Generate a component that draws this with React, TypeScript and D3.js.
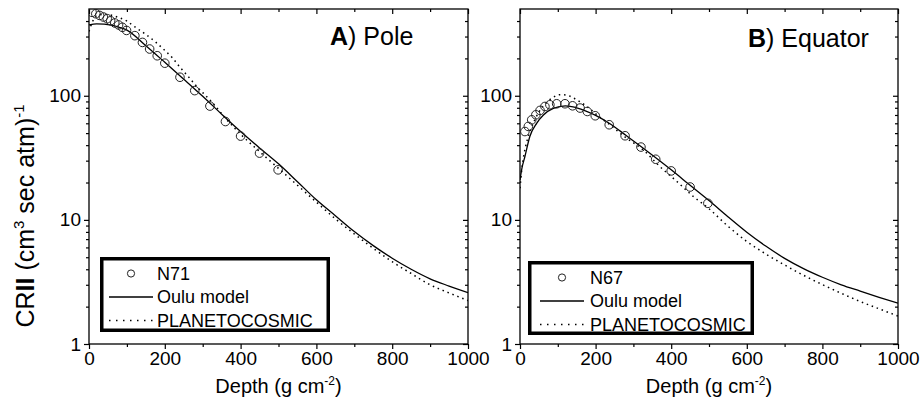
import React, { useEffect, useRef } from 'react'
import * as d3 from 'd3'

// A) Pole
const poleN71Depth = [8, 18, 28, 38, 48, 57, 68, 78, 88, 99, 121, 141, 160, 180, 200, 240, 279, 319, 360, 400, 450, 499]
const poleN71 = [470, 458, 444, 431, 418, 402, 386, 372, 356, 336, 305, 269, 238, 210, 183, 141, 110, 82.6, 62, 47.3, 34.5, 25.3]
const poleOuluDepth = [0, 20, 40, 60, 80, 100, 150, 200, 250, 300, 350, 400, 450, 500, 550, 600, 650, 700, 750, 800, 850, 900, 950, 1000]
const poleOulu = [372, 380, 378, 370, 356, 338, 253, 186, 136, 99, 71, 51.5, 38, 28.3, 20.3, 14.5, 10.8, 8.05, 6.2, 4.91, 4.0, 3.35, 2.93, 2.59]
const polePlanetoDepth = [0, 10, 20, 40, 60, 80, 100, 120, 150, 175, 200, 220, 240, 260, 280, 300, 330, 360, 400, 450, 500, 550, 600, 650, 700, 750, 800, 850, 900, 950, 1000]
const polePlaneto = [330, 400, 440, 452, 445, 425, 400, 360, 312, 272, 232, 202, 170, 145, 123, 106, 85, 66, 49, 35.5, 26, 19, 13.9, 10.2, 7.7, 5.9, 4.6, 3.7, 3.0, 2.58, 2.24]

// B) Equator
const eqN67Depth = [13, 22, 31, 42, 53, 66, 79, 97, 119, 139, 159, 178, 199, 236, 278, 320, 359, 400, 450, 497]
const eqN67 = [51.5, 56.6, 64, 70.3, 76.2, 82, 84.6, 86.2, 86.2, 83, 79.6, 74.7, 69, 58.4, 47.6, 38.6, 30.8, 24.8, 18.4, 13.6]
const eqOuluDepth = [0, 5, 13, 26, 44, 62, 88, 120, 150, 200, 240, 280, 320, 360, 400, 450, 500, 550, 600, 650, 700, 750, 800, 850, 900, 950, 1000]
const eqOulu = [21, 26, 32.4, 47, 60, 70, 79, 83, 80, 69.5, 59, 48, 39, 31.5, 25.3, 19, 14.3, 10.6, 7.95, 6.15, 4.9, 4.05, 3.45, 3.0, 2.67, 2.38, 2.13]
const eqPlanetoDepth = [0, 5, 10, 20, 35, 50, 70, 90, 106, 125, 141, 160, 177, 203, 238, 280, 326, 370, 415, 459, 500, 550, 600, 650, 700, 750, 800, 850, 900, 950, 1000]
const eqPlaneto = [18, 26, 33, 45, 60, 74, 88, 98, 102, 101, 96, 89, 82, 70.3, 58.3, 46, 36.6, 26.9, 20.4, 15.4, 12.3, 8.9, 6.7, 5.32, 4.33, 3.58, 3.01, 2.56, 2.2, 1.92, 1.68]

const depthTicks = [0, 200, 400, 600, 800, 1000]
const depthMinorTicks = [100, 300, 500, 700, 900]
const rateTicks = [1, 10, 100]
const rateMinorTicks = [2, 3, 4, 5, 6, 7, 8, 9, 20, 30, 40, 50, 60, 70, 80, 90, 200, 300, 400]
const seriesLabels = ['Oulu model', 'PLANETOCOSMIC']

const FONT = "'Liberation Sans', Arial, Helvetica, sans-serif"
const TOP = 9
const BOTTOM = 344

const panels = [
  {
    left: 89, right: 468,
    letter: 'A', name: ') Pole', titleX: 330, titleY: 45,
    station: 'N71', obsX: poleN71Depth, obsY: poleN71,
    oulu: [poleOuluDepth, poleOulu], planeto: [polePlanetoDepth, polePlaneto],
    legend: { x: 100, y: 257, w: 230, h: 75, mark: 131, l0: 109, l1: 153, text: 157 }
  },
  {
    left: 520, right: 898,
    letter: 'B', name: ') Equator', titleX: 748, titleY: 47,
    station: 'N67', obsX: eqN67Depth, obsY: eqN67,
    oulu: [eqOuluDepth, eqOulu], planeto: [eqPlanetoDepth, eqPlaneto],
    legend: { x: 528, y: 261, w: 226, h: 74, mark: 562, l0: 540, l1: 584, text: 590 }
  }
]

export default function App() {
  const svgRef = useRef<SVGSVGElement>(null)

  useEffect(() => {
    const svg = d3.select(svgRef.current)
    svg.selectAll('*').remove()

    const y = d3.scaleLog().domain([1, 500]).range([BOTTOM, TOP])

    panels.forEach((p, pi) => {
      const x = d3.scaleLinear().domain([0, 1000]).range([p.left, p.right])
      const g = svg.append('g')

      const clipId = 'clip' + pi
      g.append('clipPath').attr('id', clipId)
        .append('rect')
        .attr('x', p.left).attr('y', TOP)
        .attr('width', p.right - p.left).attr('height', BOTTOM - TOP)

      const styleAxis = (sel: any) => {
        sel.select('.domain').remove()
        sel.selectAll('line').attr('stroke', '#000').attr('stroke-width', 1.2)
        sel.selectAll('text').attr('font-family', FONT).attr('font-size', 19).attr('fill', '#000')
        sel.attr('font-family', null).attr('font-size', null)
      }

      // bottom
      g.append('g').attr('transform', `translate(0,${BOTTOM})`)
        .call(d3.axisBottom(x).tickValues(depthTicks).tickSize(5).tickSizeOuter(0).tickPadding(3).tickFormat(d3.format('d')))
        .call(styleAxis)
      g.append('g').attr('transform', `translate(0,${BOTTOM})`)
        .call(d3.axisBottom(x).tickValues(depthMinorTicks).tickSize(3).tickSizeOuter(0).tickFormat(() => ''))
        .call(styleAxis)
      // top (inward)
      g.append('g').attr('transform', `translate(0,${TOP})`)
        .call(d3.axisTop(x).tickValues(depthTicks).tickSize(-5).tickSizeOuter(0).tickFormat(() => ''))
        .call(styleAxis)
      g.append('g').attr('transform', `translate(0,${TOP})`)
        .call(d3.axisTop(x).tickValues(depthMinorTicks).tickSize(-3).tickSizeOuter(0).tickFormat(() => ''))
        .call(styleAxis)
      // left
      g.append('g').attr('transform', `translate(${p.left},0)`)
        .call(d3.axisLeft(y).tickValues(rateTicks).tickSize(5).tickSizeOuter(0).tickPadding(3).tickFormat(d3.format('d')))
        .call(styleAxis)
      g.append('g').attr('transform', `translate(${p.left},0)`)
        .call(d3.axisLeft(y).tickValues(rateMinorTicks).tickSize(3).tickSizeOuter(0).tickFormat(() => ''))
        .call(styleAxis)
      // right (inward)
      g.append('g').attr('transform', `translate(${p.right},0)`)
        .call(d3.axisRight(y).tickValues(rateTicks).tickSize(-5).tickSizeOuter(0).tickFormat(() => ''))
        .call(styleAxis)
      g.append('g').attr('transform', `translate(${p.right},0)`)
        .call(d3.axisRight(y).tickValues(rateMinorTicks).tickSize(-3).tickSizeOuter(0).tickFormat(() => ''))
        .call(styleAxis)

      // frame
      g.append('rect')
        .attr('x', p.left).attr('y', TOP)
        .attr('width', p.right - p.left).attr('height', BOTTOM - TOP)
        .attr('fill', 'none').attr('stroke', '#000').attr('stroke-width', 1.3)

      const plot = g.append('g').attr('clip-path', `url(#${clipId})`)

      const makeLine = (xs: number[]) => d3.line<number>()
        .x((d, i) => x(xs[i]))
        .y(d => y(d))
        .curve(d3.curveMonotoneX)

      plot.append('path')
        .attr('d', makeLine(p.planeto[0])(p.planeto[1]))
        .attr('fill', 'none').attr('stroke', '#000').attr('stroke-width', 1.5)
        .attr('stroke-dasharray', '1.5,3.8')

      plot.append('path')
        .attr('d', makeLine(p.oulu[0])(p.oulu[1]))
        .attr('fill', 'none').attr('stroke', '#000').attr('stroke-width', 1.3)

      plot.selectAll('circle.obs')
        .data(p.obsY)
        .enter().append('circle')
        .attr('class', 'obs')
        .attr('cx', (d, i) => x(p.obsX[i]))
        .attr('cy', d => y(d))
        .attr('r', 4.3)
        .attr('fill', 'none').attr('stroke', '#222').attr('stroke-width', 1)

      // title
      const t = g.append('text')
        .attr('x', p.titleX).attr('y', p.titleY)
        .attr('font-family', FONT).attr('font-size', 25)
      t.append('tspan').attr('font-weight', 'bold').text(p.letter)
      t.append('tspan').text(p.name)

      // legend
      const L = p.legend
      const sw = 3.5
      g.append('rect')
        .attr('x', L.x + sw / 2).attr('y', L.y + sw / 2)
        .attr('width', L.w - sw).attr('height', L.h - sw)
        .attr('fill', '#fff').attr('stroke', '#000').attr('stroke-width', sw)
      const rows = [22.5, 46, 69.5]
      g.append('circle')
        .attr('cx', L.mark).attr('cy', L.y + rows[0] - 6).attr('r', 3.6)
        .attr('fill', 'none').attr('stroke', '#222').attr('stroke-width', 1)
      g.append('line')
        .attr('x1', L.l0).attr('x2', L.l1)
        .attr('y1', L.y + rows[1] - 6).attr('y2', L.y + rows[1] - 6)
        .attr('stroke', '#000').attr('stroke-width', 1.3)
      g.append('line')
        .attr('x1', L.l0).attr('x2', L.l1)
        .attr('y1', L.y + rows[2] - 6).attr('y2', L.y + rows[2] - 6)
        .attr('stroke', '#000').attr('stroke-width', 1.4)
        .attr('stroke-dasharray', '1.5,5.5')
      const labels = [p.station, ...seriesLabels]
      labels.forEach((lab, i) => {
        g.append('text')
          .attr('x', L.text).attr('y', L.y + rows[i])
          .attr('font-family', FONT).attr('font-size', 18)
          .text(lab)
      })

      // x axis title
      const xt = g.append('text')
        .attr('x', (p.left + p.right) / 2).attr('y', 393)
        .attr('text-anchor', 'middle')
        .attr('font-family', FONT).attr('font-size', 20)
      xt.append('tspan').text('Depth (g cm')
      xt.append('tspan').attr('font-size', 12).attr('dy', -8).text('-2')
      xt.append('tspan').attr('dy', 8).text(')')
    })

    // y axis title
    const yt = svg.append('text')
      .attr('transform', 'translate(34,216) rotate(-90)')
      .attr('text-anchor', 'middle')
      .attr('font-family', FONT).attr('font-size', 25)
    yt.append('tspan').text('CR')
    yt.append('tspan').attr('font-weight', 'bold').text('II')
    yt.append('tspan').text(' (cm')
    yt.append('tspan').attr('font-size', 15).attr('dy', -10).text('3')
    yt.append('tspan').attr('dy', 10).text(' sec atm)')
    yt.append('tspan').attr('font-size', 15).attr('dy', -10).text('-1')
  }, [])

  return (
    <svg
      ref={svgRef}
      width={924}
      height={402}
      style={{ position: 'absolute', left: 0, top: 0, background: '#fff' }}
    />
  )
}
